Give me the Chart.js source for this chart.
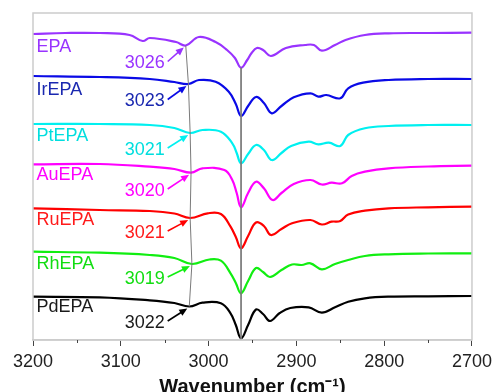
<!DOCTYPE html>
<html>
<head>
<meta charset="utf-8">
<script src="https://cdn.jsdelivr.net/npm/chart.js@4/dist/chart.umd.min.js"></script>
<style>
  html, body { margin: 0; padding: 0; background: #fff; }
  #wrap { width: 497px; height: 392px; position: relative; }
</style>
</head>
<body>
<div id="wrap"><canvas id="ftirChart"></canvas></div>
<script>
// wavenumber (cm-1), offset transmittance (a.u.)
const epa = [[3200,306],[3163,307],[3124,307],[3090,305],[3075,299],[3067,302],[3037,298],[3026,294.5],[3011,303],[2992,298],[2979,290],[2970,282],[2963,272.3],[2956,280],[2951,287],[2945,292],[2938,290],[2929,284],[2912,292],[2890,295],[2880,295],[2871,289.3],[2856,295],[2844,300],[2822,305],[2795,306.7],[2750,307],[2700,307.3]];
const irEpa = [[3200,264],[3124,263],[3067,261],[3039,258],[3023,256],[3011,260],[2992,258.3],[2977,248.3],[2969,236],[2963,224],[2955,234],[2946,243],[2937,237],[2928,226.7],[2917,234],[2903,242.7],[2884,246.7],[2875,243.3],[2866,245],[2850,241.7],[2841,251.7],[2824,257.3],[2795,260],[2750,261],[2700,261]];
const ptEpa = [[3200,216],[3124,216],[3067,215],[3039,212],[3021,207],[3007,210],[2986,208.3],[2973,196.7],[2968,187],[2963,176.7],[2955,186],[2946,195],[2937,190],[2928,180],[2917,187],[2906,194],[2886,198.3],[2875,195.7],[2863,197.3],[2850,194],[2841,205],[2822,211.7],[2795,214],[2750,215],[2700,215]];
const auEpa = [[3200,175.7],[3124,176],[3067,173.3],[3039,171],[3020,167.3],[3007,171.7],[2982,170],[2973,160],[2968,147],[2963,132.7],[2955,147],[2946,158.3],[2937,151.7],[2927,140],[2917,147],[2903,156],[2884,160],[2871,155.5],[2860,157.3],[2848,156.7],[2837,164],[2822,168.3],[2795,171.7],[2750,173.5],[2700,174.3]];
const ruEpa = [[3200,131.7],[3124,130],[3067,129],[3039,126.5],[3021,122],[3001,126.7],[2986,126],[2975,113.3],[2969,103],[2963,91.7],[2955,104],[2946,117.5],[2937,114],[2929,105],[2917,111],[2905,116.7],[2884,120],[2871,115.5],[2860,118.3],[2850,119],[2841,125.5],[2822,129.3],[2795,131.7],[2750,132.7],[2700,133.3]];
const rhEpa = [[3200,88.3],[3124,87.3],[3067,85],[3039,82],[3019,76],[2999,80.5],[2986,79.3],[2975,66.7],[2969,57],[2963,46.7],[2955,59],[2946,72],[2938,68],[2930,63],[2917,70],[2905,75.5],[2894,75],[2884,76.7],[2871,70.7],[2856,76],[2841,80],[2822,84],[2795,85.7],[2750,86.5],[2700,86.7]];
const pdEpa = [[3200,43.3],[3124,42.7],[3067,39.7],[3039,37],[3022,33.5],[3007,37.3],[2986,36.7],[2975,26.7],[2969,15],[2963,1.7],[2955,15],[2946,30.5],[2938,26],[2930,19],[2919,27],[2907,32],[2886,32.7],[2871,27.3],[2856,32.7],[2841,38.3],[2822,41.7],[2795,43.3],[2750,43.7],[2700,44]];

const sampleNames = ['EPA', 'IrEPA', 'PtEPA', 'AuEPA', 'RuEPA', 'RhEPA', 'PdEPA'];
const shoulderPeaks = [3026, 3023, 3021, 3020, 3021, 3019, 3022];
const xTicks = [3200, 3100, 3000, 2900, 2800, 2700];
const mainPeak = 2963;

const series = [epa, irEpa, ptEpa, auEpa, ruEpa, rhEpa, pdEpa];
const lineColors = ['#9933ff', '#0a0ae6', '#00f0f0', '#ff00ff', '#ff0000', '#11ee11', '#000000'];
const textColors = ['#9933ff', '#1a28b0', '#00dede', '#ff00ff', '#ff1a1a', '#11dd11', '#1a1a1a'];
// label placement (y in data units)
const nameYs = [293, 250, 204, 165, 120, 76, 33];
const numYs = [276.5, 238.5, 190, 149, 107, 61, 17];

const toPts = arr => arr.map(p => ({ x: p[0], y: p[1] }));

// gray guide through the shoulder marks, and one through the main dip
const shoulderLine = shoulderPeaks.map((wn, i) => {
  const hit = series[i].find(p => p[0] === wn);
  return { x: wn, y: hit[1] };
});
const dipLine = [{ x: mainPeak, y: epa.find(p => p[0] === mainPeak)[1] }, { x: mainPeak, y: 0 }];

const datasets = series.map((s, i) => ({
  label: sampleNames[i],
  data: toPts(s),
  borderColor: lineColors[i],
  borderWidth: 2.2,
  pointRadius: 0,
  tension: 0.4,
  fill: false,
  order: 1,
}));
datasets.push({ data: shoulderLine, borderColor: '#7a7a7a', borderWidth: 1, pointRadius: 0, tension: 0, order: 0 });
datasets.push({ data: dipLine, borderColor: '#7a7a7a', borderWidth: 1, pointRadius: 0, tension: 0, order: 0 });

const annotate = {
  id: 'annotate',
  afterDraw(chart) {
    const { ctx, chartArea } = chart;
    const xs = chart.scales.x, ys = chart.scales.y;
    ctx.save();

    // frame
    ctx.strokeStyle = '#cccccc';
    ctx.lineWidth = 1.5;
    ctx.strokeRect(chartArea.left, chartArea.top, chartArea.right - chartArea.left, chartArea.bottom - chartArea.top);

    // minor ticks
    ctx.strokeStyle = '#444';
    ctx.lineWidth = 1;
    for (let v = 3150; v > 2700; v -= 100) {
      const px = Math.round(xs.getPixelForValue(v)) + 0.5;
      ctx.beginPath();
      ctx.moveTo(px, chartArea.bottom);
      ctx.lineTo(px, chartArea.bottom + 3);
      ctx.stroke();
    }

    ctx.font = '18px "Liberation Sans", Arial, sans-serif';
    ctx.textBaseline = 'middle';
    sampleNames.forEach((name, i) => {
      ctx.fillStyle = textColors[i];
      ctx.textAlign = 'left';
      ctx.fillText(name, xs.getPixelForValue(3196), ys.getPixelForValue(nameYs[i]));

      const numRight = xs.getPixelForValue(3050);
      const numY = ys.getPixelForValue(numYs[i]);
      ctx.textAlign = 'right';
      ctx.fillText(String(shoulderPeaks[i]), numRight, numY);

      // arrow to the shoulder
      const tx = xs.getPixelForValue(shoulderPeaks[i]);
      const ty = ys.getPixelForValue(shoulderLine[i].y);
      const x0 = numRight + 3, y0 = numY - 2;
      const x1 = tx - 2, y1 = ty + 2;
      const ang = Math.atan2(y1 - y0, x1 - x0);
      ctx.strokeStyle = lineColors[i];
      ctx.fillStyle = lineColors[i];
      ctx.lineWidth = 1.6;
      ctx.beginPath();
      ctx.moveTo(x0, y0);
      ctx.lineTo(x1 - 6 * Math.cos(ang), y1 - 6 * Math.sin(ang));
      ctx.stroke();
      ctx.beginPath();
      ctx.moveTo(x1, y1);
      ctx.lineTo(x1 - 8 * Math.cos(ang) + 3.5 * Math.sin(ang), y1 - 8 * Math.sin(ang) - 3.5 * Math.cos(ang));
      ctx.lineTo(x1 - 8 * Math.cos(ang) - 3.5 * Math.sin(ang), y1 - 8 * Math.sin(ang) + 3.5 * Math.cos(ang));
      ctx.closePath();
      ctx.fill();
    });
    ctx.restore();
  }
};

new Chart(document.getElementById('ftirChart'), {
  type: 'line',
  data: { datasets },
  options: {
    responsive: true,
    maintainAspectRatio: false,
    animation: false,
    layout: { padding: { left: 33, right: 23, top: 13, bottom: 0 } },
    plugins: { legend: { display: false }, tooltip: { enabled: false } },
    scales: {
      x: {
        type: 'linear',
        reverse: true,
        min: 2700,
        max: 3200,
        afterBuildTicks: axis => { axis.ticks = xTicks.map(v => ({ value: v })); },
        afterFit: axis => { axis.height = 52; },
        ticks: {
          color: '#222',
          font: { family: '"Liberation Sans", Arial, sans-serif', size: 18 },
          padding: 5,
          maxRotation: 0,
          autoSkip: false,
          callback: v => String(v),
        },
        grid: { drawOnChartArea: false, drawTicks: true, tickLength: 6, color: '#444' },
        border: { display: true, color: '#cccccc', width: 1.5 },
        title: {
          display: true,
          text: 'Wavenumber (cm⁻¹)',
          color: '#111',
          font: { family: '"Liberation Sans", Arial, sans-serif', size: 20, weight: 'bold' },
          padding: { top: 0, bottom: -7 },
        },
      },
      y: { display: false, min: 0, max: 327 },
    },
  },
  plugins: [annotate],
});
</script>
</body>
</html>
